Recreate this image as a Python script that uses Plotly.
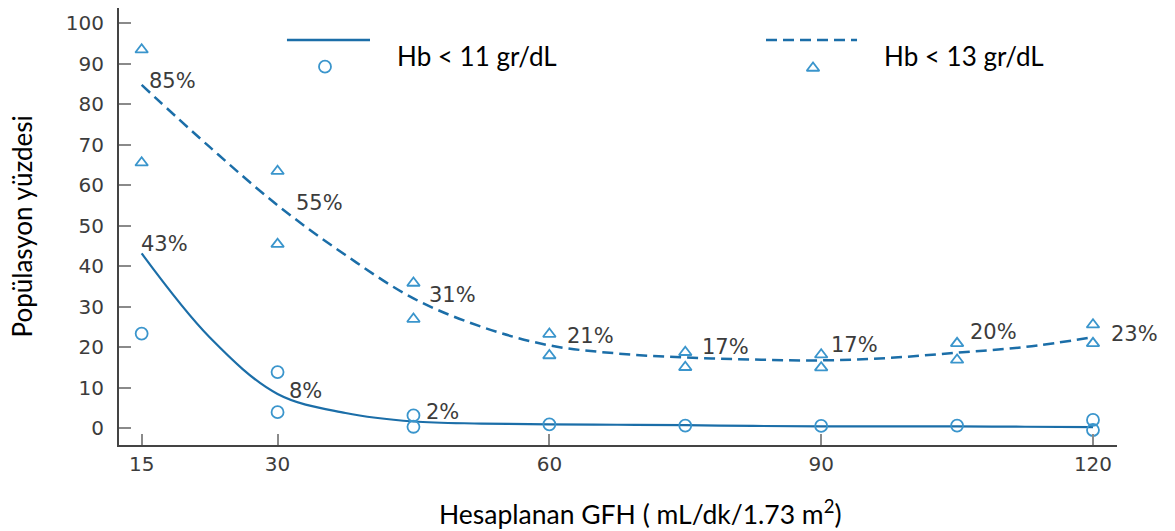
import plotly.graph_objects as go

# ---- data ----
curve_x = [15, 22.5, 30, 37.5, 45, 52.5, 60, 67.5, 75, 82.5, 90, 97.5, 105, 112.5, 120]
hb13_curve = [84.8, 69.5, 55.1, 42.8, 32.1, 25.1, 20.5, 18.5, 17.5, 17.0, 16.8, 17.4, 18.7, 20.1, 22.5]
hb11_curve = [43.2, 22.5, 8.5, 3.8, 1.7, 1.2, 1.0, 0.9, 0.8, 0.6, 0.5, 0.5, 0.5, 0.4, 0.3]

hb11_x = [15, 30, 30, 45, 45, 60, 75, 90, 105, 120, 120]
hb11_y = [23.4, 13.9, 4.0, 3.2, 0.4, 1.0, 0.7, 0.6, 0.7, 2.1, -0.4]

hb13_x = [15, 15, 30, 30, 45, 45, 60, 60, 75, 75, 90, 90, 105, 105, 120, 120]
hb13_y = [93.5, 65.6, 63.5, 45.5, 35.9, 27.0, 23.3, 18.0, 18.8, 15.1, 18.2, 15.0, 21.0, 16.9, 25.6, 21.0]

label_text = ["85%", "55%", "31%", "21%", "17%", "17%", "20%", "23%", "43%", "8%", "2%"]
label_x = [15.6, 31.8, 46.5, 61.7, 76.6, 90.9, 106.2, 121.8, 14.7, 31.0, 46.2]
label_y = [85.7, 55.7, 33.0, 22.8, 20.2, 20.6, 23.8, 23.2, 45.6, 9.3, 4.1]

x_ticks = [15, 30, 60, 90, 120]
y_ticks = [0, 10, 20, 30, 40, 50, 60, 70, 80, 90, 100]
y_range = [-4.1, 103.8]

legend_names = ["Hb < 11 gr/dL", "Hb < 13 gr/dL"]

LINE = "#1b6ea8"
MARK = "#3a95cc"
TXT = "#3c3c3c"
TITLE_FONT = "Lato"

fig = go.Figure()

fig.add_trace(go.Scatter(x=curve_x, y=hb13_curve, mode="lines",
                         line=dict(color=LINE, width=2.5, dash="11px,6px", shape="spline", smoothing=1.0),
                         showlegend=False, hoverinfo="skip"))
fig.add_trace(go.Scatter(x=curve_x, y=hb11_curve, mode="lines",
                         line=dict(color=LINE, width=2.2, shape="spline", smoothing=1.0),
                         showlegend=False, hoverinfo="skip"))
fig.add_trace(go.Scatter(x=hb13_x, y=hb13_y, mode="markers",
                         marker=dict(symbol="triangle-up-open", size=11, color=MARK, line=dict(width=1.8, color=MARK)),
                         showlegend=False))
# plotted on y3, an overlay axis with the identical range that carries the inside tick marks
fig.add_trace(go.Scatter(x=hb11_x, y=hb11_y, mode="markers", yaxis="y3",
                         marker=dict(symbol="circle-open", size=12, color=MARK, line=dict(width=1.8, color=MARK)),
                         showlegend=False))

# legend drawn on an overlay axis with 0..1 range (paper-like)
fig.add_trace(go.Scatter(x=[0.1683, 0.2515], y=[0.9268, 0.9268], mode="lines", xaxis="x2", yaxis="y2",
                         line=dict(color=LINE, width=2.5), showlegend=False, hoverinfo="skip"))
fig.add_trace(go.Scatter(x=[0.2064], y=[0.8657], mode="markers", xaxis="x2", yaxis="y2",
                         marker=dict(symbol="circle-open", size=12, color=MARK, line=dict(width=1.8, color=MARK)),
                         showlegend=False, hoverinfo="skip"))
fig.add_trace(go.Scatter(x=[0.6483, 0.7395], y=[0.9268, 0.9268], mode="lines", xaxis="x2", yaxis="y2",
                         line=dict(color=LINE, width=2.5, dash="11px,6px"), showlegend=False, hoverinfo="skip"))
fig.add_trace(go.Scatter(x=[0.6954], y=[0.8627], mode="markers", xaxis="x2", yaxis="y2",
                         marker=dict(symbol="triangle-up-open", size=11, color=MARK, line=dict(width=1.8, color=MARK)),
                         showlegend=False, hoverinfo="skip"))

annotations = []
for t, x, y in zip(label_text, label_x, label_y):
    annotations.append(dict(x=x, y=y, xref="x", yref="y", text=t, showarrow=False,
                            xanchor="left", yanchor="middle",
                            font=dict(family="DejaVu Sans", size=21, color=TXT)))
annotations.append(dict(x=0.2766, y=0.8902, xref="paper", yref="paper", text=legend_names[0],
                        showarrow=False, xanchor="left", yanchor="middle",
                        font=dict(family=TITLE_FONT, size=26, color="black")))
annotations.append(dict(x=0.7642, y=0.8902, xref="paper", yref="paper", text=legend_names[1],
                        showarrow=False, xanchor="left", yanchor="middle",
                        font=dict(family=TITLE_FONT, size=26, color="black")))
annotations.append(dict(x=0.522, y=-0.1556, xref="paper", yref="paper",
                        text="Hesaplanan GFH ( mL/dk/1.73 m<sup>2</sup>)",
                        showarrow=False, xanchor="center", yanchor="middle",
                        font=dict(family=TITLE_FONT, size=26.5, color="black")))
annotations.append(dict(x=-0.0972, y=0.5, xref="paper", yref="paper",
                        text="Popülasyon yüzdesi", textangle=-90,
                        showarrow=False, xanchor="center", yanchor="middle",
                        font=dict(family=TITLE_FONT, size=26, color="black")))

fig.update_layout(
    width=1175, height=531,
    margin=dict(l=119, r=58, t=8, b=86),
    paper_bgcolor="white", plot_bgcolor="white",
    showlegend=False,
    annotations=annotations,
    xaxis=dict(range=[12.5, 122.65], tickvals=x_ticks, ticktext=[str(v) for v in x_ticks],
               ticks="inside", ticklen=11, tickwidth=2, tickcolor="#8a8a8a",
               showline=True, linecolor="#444444", linewidth=2,
               showgrid=False, zeroline=False,
               tickfont=dict(family="DejaVu Sans", size=20, color=TXT)),
    yaxis=dict(range=y_range, tickvals=y_ticks,
               ticks="outside", ticklen=9, tickwidth=1, tickcolor="rgba(0,0,0,0)",
               showline=True, linecolor="#444444", linewidth=2,
               showgrid=False, zeroline=False,
               tickfont=dict(family="DejaVu Sans", size=20, color=TXT)),
    yaxis3=dict(range=y_range, tickvals=y_ticks, overlaying="y", side="left", anchor="x",
                ticks="inside", ticklen=12, tickwidth=2, tickcolor="#8a8a8a",
                showticklabels=False, showline=False, showgrid=False, zeroline=False),
    xaxis2=dict(range=[0, 1], overlaying="x", visible=False, fixedrange=True),
    yaxis2=dict(range=[0, 1], overlaying="y", visible=False, fixedrange=True),
)

fig.write_html("out.html")
